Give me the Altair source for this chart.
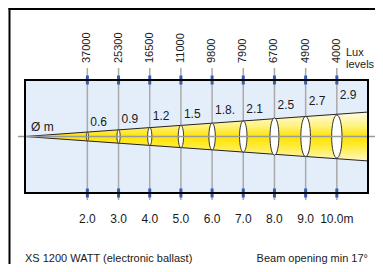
import math
import altair as alt
import pandas as pd

# ---- data ----
distances = [2, 3, 4, 5, 6, 7, 8, 9, 10]
lux_levels = ["37000", "25300", "16500", "11000", "9800", "7900", "6700", "4900", "4000"]
diameters = [0.6, 0.9, 1.2, 1.5, 1.8, 2.1, 2.5, 2.7, 2.9]
diameter_labels = ["0.6", "0.9", "1.2", "1.5", "1.8.", "2.1", "2.5", "2.7", "2.9"]
diameter_label_heights = [0.96, 1.21, 1.37, 1.48, 1.75, 1.88, 2.10, 2.37, 2.82]
distance_labels = ["2.0", "3.0", "4.0", "5.0", "6.0", "7.0", "8.0", "9.0", "10.0m"]
beam_angle_deg = 17
x_max = 11
y_half = 3.8
title_left = "XS 1200 WATT (electronic ballast)"
title_right = "Beam opening min 17°"
diam_unit = "Ø m"
lux_caption = ["Lux", "levels"]

W, H = 343, 113
FONT = "Liberation Sans"
TXT = "#1a1a1a"

pts = pd.DataFrame({
    "d": distances,
    "zero": [0] * len(distances),
    "lux": lux_levels,
    "diam": diameters,
    "dlabel": diameter_labels,
    "lab_y": diameter_label_heights,
    "dist": distance_labels,
})

half_end = x_max * math.tan(math.radians(beam_angle_deg / 2))
beam = pd.DataFrame({"d": [0, x_max], "lo": [0, -half_end], "hi": [0, half_end]})
one = pd.DataFrame({"k": [0], "zero": [0]})

xs = alt.Scale(domain=[0, x_max], nice=False, zero=False)
ys = alt.Scale(domain=[-y_half, y_half], nice=False, zero=False)
X = alt.X("d:Q", scale=xs, axis=None)
Y0 = alt.Y("zero:Q", scale=ys, axis=None)

bg = alt.Chart(one).mark_rect(fill="#E4EEFA", strokeWidth=0).encode(
    x=alt.value(0), x2=alt.value(W), y=alt.value(0), y2=alt.value(H))

vlines = alt.Chart(pts).mark_rule(color="#A9A9A9", strokeWidth=1.5).encode(
    x=X, y=alt.value(-12), y2=alt.value(120))

grad = alt.Gradient(
    gradient="linear", x1=0, x2=0, y1=0, y2=1,
    stops=[
        alt.GradientStop(color="#FFFCE4", offset=0),
        alt.GradientStop(color="#FFF27A", offset=0.3),
        alt.GradientStop(color="#FFE300", offset=0.5),
        alt.GradientStop(color="#FFEB3A", offset=0.7),
        alt.GradientStop(color="#FFF8C8", offset=1),
    ])
beam_area = alt.Chart(beam).mark_area(color=grad, stroke="#222222", strokeWidth=1).encode(
    x=X, y=alt.Y("lo:Q", scale=ys, axis=None), y2="hi:Q")

ell_path = ("M0,-1C0.1326,-1 0.24,-0.5523 0.24,0C0.24,0.5523 0.1326,1 0,1"
            "C-0.1326,1 -0.24,0.5523 -0.24,0C-0.24,-0.5523 -0.1326,-1 0,-1Z")
ellipses = alt.Chart(pts).mark_point(
    shape=ell_path, filled=True, fill="white", stroke="#333333", strokeWidth=1, opacity=1
).encode(
    x=X, y=Y0,
    size=alt.Size("diam:Q", scale=alt.Scale(type="pow", exponent=2, domain=[0, 2 * y_half],
                                              range=[0, H * H]), legend=None))

center = alt.Chart(one).mark_rule(color="#9A9A9A", strokeWidth=1.5).encode(
    x=alt.value(-7), x2=alt.value(355), y=Y0)

mark_top = alt.Chart(pts).mark_rule(color="#3B5BB0", strokeWidth=3).encode(
    x=X, y=alt.value(-4.5), y2=alt.value(4.5))
mark_bot = alt.Chart(pts).mark_rule(color="#3B5BB0", strokeWidth=3).encode(
    x=X, y=alt.value(H - 4.5), y2=alt.value(H + 4.5))

border = alt.Chart(one).mark_rect(fillOpacity=0, stroke="black", strokeWidth=2).encode(
    x=alt.value(0), x2=alt.value(W), y=alt.value(0), y2=alt.value(H))

dlabels = alt.Chart(pts).mark_text(align="left", baseline="middle", dx=3, fontSize=12,
                                   font=FONT, color=TXT).encode(
    x=X, y=alt.Y("lab_y:Q", scale=ys, axis=None), text="dlabel:N")

luxlabels = alt.Chart(pts).mark_text(angle=270, align="left", baseline="middle", fontSize=11,
                                     font=FONT, color=TXT).encode(
    x=X, y=alt.value(-17), text="lux:N")

distlabels = alt.Chart(pts).mark_text(align="center", baseline="middle", fontSize=12,
                                      font=FONT, color=TXT).encode(
    x=X, y=alt.value(139), text="dist:N")

lux_cap1 = alt.Chart(one).mark_text(align="left", baseline="middle", fontSize=11,
                                    font=FONT, color=TXT).encode(
    x=alt.value(321), y=alt.value(-27), text=alt.value(lux_caption[0]))
lux_cap2 = alt.Chart(one).mark_text(align="left", baseline="middle", fontSize=11,
                                    font=FONT, color=TXT).encode(
    x=alt.value(321), y=alt.value(-15), text=alt.value(lux_caption[1]))

unit = alt.Chart(one).mark_text(align="left", baseline="middle", fontSize=12,
                                font=FONT, color=TXT).encode(
    x=alt.value(6), y=alt.value(47), text=alt.value(diam_unit))

t_left = alt.Chart(one).mark_text(align="left", baseline="middle", fontSize=11,
                                  font=FONT, color=TXT).encode(
    x=alt.value(0), y=alt.value(178.5), text=alt.value(title_left))
t_right = alt.Chart(one).mark_text(align="right", baseline="middle", fontSize=11,
                                   font=FONT, color=TXT).encode(
    x=alt.value(W), y=alt.value(178.5), text=alt.value(title_right))

frame_left = alt.Chart(one).mark_rule(color="black", strokeWidth=2).encode(
    x=alt.value(-15.5), y=alt.value(-72), y2=alt.value(200))
frame_top = alt.Chart(one).mark_rule(color="black", strokeWidth=2).encode(
    x=alt.value(-16.5), x2=alt.value(360), y=alt.value(-71))

chart = alt.layer(
    bg, vlines, beam_area, ellipses, center, mark_top, mark_bot, border,
    dlabels, luxlabels, distlabels, lux_cap1, lux_cap2, unit, t_left, t_right,
    frame_left, frame_top,
).properties(
    width=W, height=H,
    padding={"left": 17, "top": 72, "right": 7, "bottom": 71},
    autosize=alt.AutoSizeParams(type="none"),
).configure_view(strokeWidth=0)

chart.save("out.html", embed_options={"renderer": "svg", "actions": False})
